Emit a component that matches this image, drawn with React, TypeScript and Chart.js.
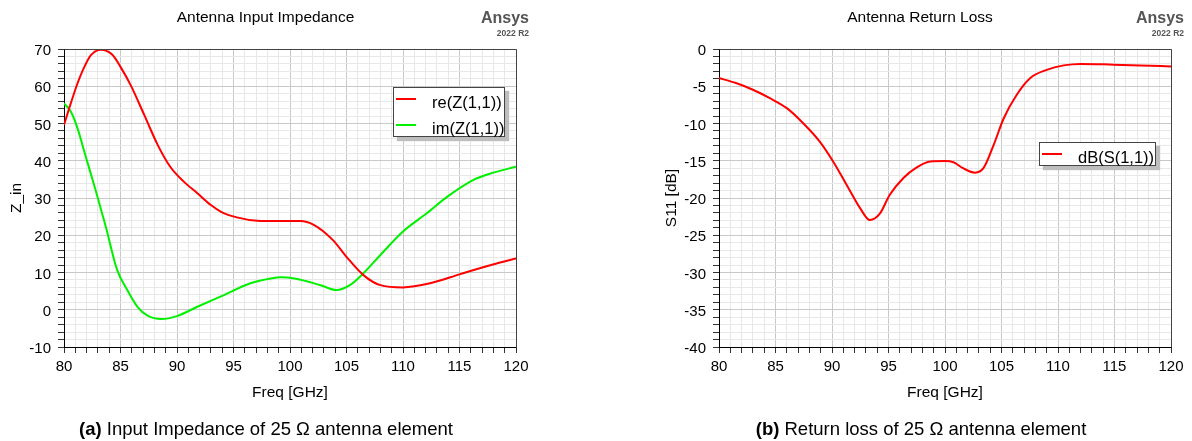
import React, { useEffect, useRef } from "react";
import { Chart, registerables } from "chart.js";

Chart.register(...registerables);

const FONT = '"Liberation Sans", Arial, Helvetica, sans-serif';

// ---- Data ----
const reFreq = [80, 80.6, 81.2, 81.8, 82.4, 83.25, 84.3, 85.0, 85.9, 87.1, 88.3, 89.4, 90.6, 91.8, 93.0, 93.9, 95.3, 97.1, 99.0, 100.9, 102.1, 103.8, 105.0, 106.5, 108.0, 110.0, 112.4, 115.0, 117.4, 120];
const reZ = [49.6, 55.4, 60.8, 65.2, 68.4, 69.8, 68.4, 65.2, 60.3, 52.3, 44.2, 38.4, 34.4, 31.3, 28.1, 26.3, 24.8, 23.9, 23.8, 23.8, 22.8, 18.7, 14.2, 9.3, 6.6, 6.0, 7.1, 9.5, 11.7, 13.8];

const imFreq = [80, 80.6, 81.2, 81.8, 82.4, 82.8, 83.7, 84.7, 85.6, 86.5, 87.4, 88.6, 90.0, 91.8, 94.2, 96.5, 98.3, 99.2, 100.4, 102.7, 104.1, 105.3, 106.5, 108.0, 110.0, 112.1, 113.9, 116.2, 118.0, 120];
const imZ = [55.4, 53.2, 48.7, 42.4, 36.2, 32.1, 22.3, 10.7, 5.3, 0.8, -1.6, -2.5, -1.7, 0.8, 4.0, 7.1, 8.4, 8.7, 8.4, 6.6, 5.3, 6.6, 9.8, 14.7, 21.0, 25.9, 30.3, 34.8, 36.8, 38.4];

const s11Freq = [80, 81.5, 83.0, 84.5, 86.0, 87.45, 88.9, 90.1, 91.3, 92.5, 93.35, 94.25, 95.1, 96.3, 97.5, 98.7, 100.0, 100.75, 101.6, 102.65, 103.4, 104.3, 105.2, 106.35, 107.55, 109.0, 110.5, 112.0, 114.9, 117.3, 120];
const s11dB = [-3.9, -4.57, -5.47, -6.6, -7.94, -9.96, -12.4, -15.1, -18.25, -21.4, -22.96, -22.07, -19.6, -17.35, -15.9, -15.1, -15.05, -15.2, -16.0, -16.6, -16.0, -12.9, -9.3, -6.15, -3.9, -2.8, -2.2, -2.0, -2.1, -2.2, -2.34];

const freqTicks = [80, 85, 90, 95, 100, 105, 110, 115, 120];
const impedanceTicks = [-10, 0, 10, 20, 30, 40, 50, 60, 70];
const returnLossTicks = [-40, -35, -30, -25, -20, -15, -10, -5, 0];

const seriesLabels = ["re(Z(1,1))", "im(Z(1,1))", "dB(S(1,1))"];
const seriesColors = ["#ff0000", "#00f000", "#ff0000"];

const MAJOR_GRID = "#c8c8c8";
const MINOR_GRID = "#e8e8e8";

const isOnList = (v: number, list: number[]) =>
  list.some((t) => Math.abs(t - v) < 1e-6);

const framePlugin = {
  id: "frame",
  afterDraw(chart: any) {
    const { ctx, chartArea } = chart;
    const a = (p: number) => Math.round(p - 0.5) + 0.5;
    const l = a(chartArea.left);
    const r = a(chartArea.right);
    const t = a(chartArea.top);
    const b = a(chartArea.bottom);
    ctx.save();
    ctx.strokeStyle = "#444";
    ctx.lineWidth = 1;
    ctx.beginPath();
    ctx.moveTo(l, t);
    ctx.lineTo(r, t);
    ctx.lineTo(r, b);
    ctx.stroke();
    ctx.restore();
  },
};

function makeConfig(opts: {
  datasets: any[];
  yMin: number;
  yMax: number;
  yStep: number;
  yTicks: number[];
  yTitle: string;
  yWidth: number;
  yTitlePad: number;
  padRight: number;
}) {
  return {
    type: "line",
    data: { datasets: opts.datasets },
    options: {
      responsive: false,
      animation: false,
      devicePixelRatio: 1,
      layout: { padding: { left: 0, top: 49, right: opts.padRight, bottom: 34 } },
      plugins: { legend: { display: false }, tooltip: { enabled: false } },
      scales: {
        x: {
          type: "linear",
          min: 80,
          max: 120,
          afterFit: (s: any) => {
            s.height = 60;
          },
          ticks: {
            stepSize: 1,
            maxTicksLimit: 1000,
            autoSkip: false,
            maxRotation: 0,
            padding: 5,
            color: "#000",
            font: { size: 15, family: FONT },
            callback: (v: any) => (isOnList(Number(v), freqTicks) ? String(Math.round(Number(v))) : ""),
          },
          grid: {
            color: (c: any) =>
              c.tick && isOnList(c.tick.value, freqTicks) ? MAJOR_GRID : MINOR_GRID,
            tickColor: "#333",
            tickLength: 6,
          },
          border: { color: "#000" },
          title: {
            display: true,
            text: "Freq [GHz]",
            color: "#000",
            font: { size: 15.5, family: FONT },
            padding: { top: 0, bottom: 5 },
          },
        },
        y: {
          type: "linear",
          min: opts.yMin,
          max: opts.yMax,
          afterFit: (s: any) => {
            s.width = opts.yWidth;
          },
          ticks: {
            stepSize: opts.yStep,
            maxTicksLimit: 1000,
            autoSkip: false,
            padding: 7,
            labelOffset: 2,
            color: "#000",
            font: { size: 15, family: FONT },
            callback: (v: any) => (isOnList(Number(v), opts.yTicks) ? String(Math.round(Number(v))) : ""),
          },
          grid: {
            color: (c: any) =>
              c.tick && isOnList(c.tick.value, opts.yTicks) ? MAJOR_GRID : MINOR_GRID,
            tickColor: "#333",
            tickLength: 6,
          },
          border: { color: "#000" },
          title: {
            display: true,
            text: opts.yTitle,
            color: "#000",
            font: { size: 15.5, family: FONT },
            padding: { top: opts.yTitlePad, bottom: 0 },
          },
        },
      },
    },
    plugins: [framePlugin],
  } as any;
}

const lineDs = (label: string, color: string, xs: number[], ys: number[]) => ({
  label,
  data: xs.map((x, i) => ({ x, y: ys[i] })),
  borderColor: color,
  backgroundColor: color,
  borderWidth: 2,
  pointRadius: 0,
  fill: false,
  cubicInterpolationMode: "monotone",
});

const abs = (s: any): React.CSSProperties => ({ position: "absolute", whiteSpace: "nowrap", lineHeight: 1, ...s });

function Legend({ left, top, width, height, items }: any) {
  return (
    <div
      style={{
        position: "absolute",
        left,
        top,
        width,
        height,
        boxSizing: "border-box",
        background: "#fff",
        border: "1px solid #444",
        boxShadow: "4px 4px 1px #bdbdbd",
      }}
    >
      {items.map((it: any, i: number) => (
        <React.Fragment key={i}>
          <div style={{ position: "absolute", left: 2, top: 10 + i * 26, width: 20, height: 2, background: it.color }} />
          <div style={abs({ left: 38, top: 6 + i * 26, fontSize: 16.5, color: "#000" })}>{it.label}</div>
        </React.Fragment>
      ))}
    </div>
  );
}

export default function App() {
  const leftRef = useRef<HTMLCanvasElement>(null);
  const rightRef = useRef<HTMLCanvasElement>(null);

  useEffect(() => {
    const c1 = new Chart(
      leftRef.current as HTMLCanvasElement,
      makeConfig({
        datasets: [
          lineDs(seriesLabels[0], seriesColors[0], reFreq, reZ),
          lineDs(seriesLabels[1], seriesColors[1], imFreq, imZ),
        ],
        yMin: -10,
        yMax: 70,
        yStep: 2,
        yTicks: impedanceTicks,
        yTitle: "Z_in",
        yWidth: 64,
        yTitlePad: 7,
        padRight: 80,
      })
    );
    const c2 = new Chart(
      rightRef.current as HTMLCanvasElement,
      makeConfig({
        datasets: [lineDs(seriesLabels[2], seriesColors[2], s11Freq, s11dB)],
        yMin: -40,
        yMax: 0,
        yStep: 1,
        yTicks: returnLossTicks,
        yTitle: "S11 [dB]",
        yWidth: 79,
        yTitlePad: 22,
        padRight: 21,
      })
    );
    return () => {
      c1.destroy();
      c2.destroy();
    };
  }, []);

  return (
    <div
      style={{
        position: "absolute",
        left: 0,
        top: 0,
        width: 1192,
        height: 441,
        background: "#fff",
        overflow: "hidden",
        fontFamily: FONT,
        color: "#000",
      }}
    >
      <canvas ref={leftRef} width={596} height={441} style={{ position: "absolute", left: 0, top: 0 }} />
      <canvas ref={rightRef} width={552} height={441} style={{ position: "absolute", left: 640, top: 0 }} />

      <div style={abs({ left: 265.5, top: 9, fontSize: 15.5, transform: "translateX(-50%)" })}>Antenna Input Impedance</div>
      <div style={abs({ right: 663, top: 10, fontSize: 16, fontWeight: "bold", color: "#555" })}>Ansys</div>
      <div style={abs({ right: 663, top: 29, fontSize: 8.5, fontWeight: "bold", color: "#555" })}>2022 R2</div>

      <div style={abs({ left: 920, top: 9, fontSize: 15.5, transform: "translateX(-50%)" })}>Antenna Return Loss</div>
      <div style={abs({ right: 8, top: 10, fontSize: 16, fontWeight: "bold", color: "#555" })}>Ansys</div>
      <div style={abs({ right: 8, top: 29, fontSize: 8.5, fontWeight: "bold", color: "#555" })}>2022 R2</div>

      <Legend
        left={393}
        top={87}
        width={112}
        height={50}
        items={[
          { label: seriesLabels[0], color: seriesColors[0] },
          { label: seriesLabels[1], color: seriesColors[1] },
        ]}
      />
      <Legend left={1039} top={142} width={117} height={24} items={[{ label: seriesLabels[2], color: seriesColors[2] }]} />

      <div style={abs({ left: 266, top: 420, fontSize: 18.5, transform: "translateX(-50%)" })}>
        <b>(a)</b> Input Impedance of 25 Ω antenna element
      </div>
      <div style={abs({ left: 921, top: 420, fontSize: 18.5, transform: "translateX(-50%)" })}>
        <b>(b)</b> Return loss of 25 Ω antenna element
      </div>
    </div>
  );
}
